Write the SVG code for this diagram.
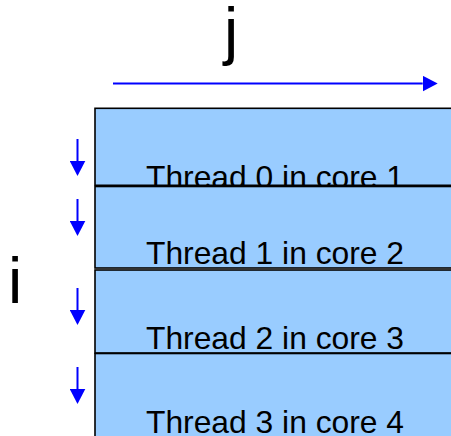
<svg xmlns="http://www.w3.org/2000/svg" width="451" height="436" viewBox="0 0 451 436">
<style>
.row{fill:#99ccff;stroke:#000;stroke-width:1.6}
.lbl{font-family:"Liberation Sans",Arial,sans-serif;font-size:30.5px;fill:#000}
.axis{font-family:"Liberation Sans",Arial,sans-serif;font-size:64px;fill:#000}
.arr{stroke:#0000ff;stroke-width:2;fill:none;marker-end:url(#ah)}
</style>
<defs>
<marker id="ah" markerUnits="userSpaceOnUse" markerWidth="16" markerHeight="16" viewBox="0 -8 16 16" refX="0" refY="0" orient="auto">
<path d="M0,-7.8 L15,0 L0,7.8 Z" fill="#0000ff"/>
</marker>
</defs>
<rect width="451" height="436" fill="#fff"/>
<g id="label-j"><text class="axis" x="231" y="52.5" text-anchor="middle">j</text></g>
<g id="label-i"><text class="axis" x="8" y="303.3">i</text></g>
<g id="row0"><rect class="row" x="95" y="108.3" width="370" height="77"/><text class="lbl" x="146" y="188.4" textLength="258" lengthAdjust="spacingAndGlyphs">Thread 0 in core 1</text></g>
<g id="row1"><rect class="row" x="95" y="186.5" width="370" height="81.5"/><text class="lbl" x="146" y="264" textLength="258" lengthAdjust="spacingAndGlyphs">Thread 1 in core 2</text></g>
<g id="row2"><rect class="row" x="95" y="270" width="370" height="83"/><text class="lbl" x="146" y="349.3" textLength="258" lengthAdjust="spacingAndGlyphs">Thread 2 in core 3</text></g>
<g id="row3"><rect class="row" x="95" y="353.5" width="370" height="100"/><text class="lbl" x="146" y="433.4" textLength="258" lengthAdjust="spacingAndGlyphs">Thread 3 in core 4</text></g>
<g id="connectors">
<path class="arr" d="M113,83.5 H422.7"/>
<path class="arr" d="M77.5,139 V161"/>
<path class="arr" d="M77.5,199 V221"/>
<path class="arr" d="M77.5,288 V310"/>
<path class="arr" d="M77.5,367 V389"/>
</g>
</svg>
